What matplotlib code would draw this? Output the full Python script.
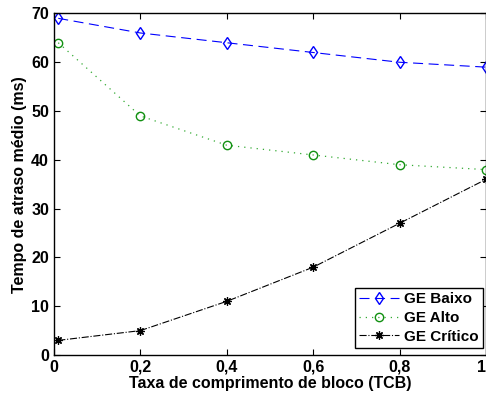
import matplotlib
matplotlib.use('Agg')
import matplotlib.pyplot as plt

# dados
tcb = [0.01, 0.2, 0.4, 0.6, 0.8, 1.0]
ge_baixo = [69, 66, 64, 62, 60, 59]
ge_alto = [64, 49, 43, 41, 39, 38]
ge_critico = [3, 5, 11, 18, 27, 36]

x_ticks = [0, 0.2, 0.4, 0.6, 0.8, 1.0]
x_ticklabels = ['0', '0,2', '0,4', '0,6', '0,8', '1']
y_ticks = [0, 10, 20, 30, 40, 50, 60, 70]

plt.rcParams['font.family'] = ['Liberation Sans', 'DejaVu Sans']
plt.rcParams['font.weight'] = 'bold'

fig = plt.figure(figsize=(4.86, 3.96), dpi=100)
ax = fig.add_axes([0.111, 0.1035, 0.889, 0.8625])

ax.plot(tcb, ge_baixo, linestyle='--', color='#0000ff', marker='d', markersize=6.5,
        markerfacecolor='none', markeredgecolor='#0000ff', linewidth=0.8, label='GE Baixo',
        dashes=(9, 5))
ax.plot(tcb, ge_alto, linestyle=':', color='#33aa33', marker='o', markersize=6,
        markerfacecolor='none', markeredgecolor='#119011', linewidth=0.9, label='GE Alto',
        dashes=(1, 4))
ax.plot(tcb, ge_critico, linestyle='-.', color='black', marker=(8, 2, 0), markersize=6,
        markeredgecolor='black', markeredgewidth=0.9,
        linewidth=0.8, label='GE Crítico')

ax.set_xlim(0, 1)
ax.set_ylim(0, 70)
ax.set_xticks(x_ticks)
ax.set_xticklabels(x_ticklabels)
ax.set_yticks(y_ticks)
ax.tick_params(direction='in', top=True, right=True, labelsize=11.5, length=4, width=0.8)
ax.get_xticklabels()[-1].set_horizontalalignment('right')
for s in ax.spines.values():
    s.set_linewidth(1.0)

ax.set_xlabel('Taxa de comprimento de bloco (TCB)', fontsize=11.5, fontweight='bold', labelpad=1)
ax.set_ylabel('Tempo de atraso médio (ms)', fontsize=11.5, fontweight='bold', labelpad=3)

leg = ax.legend(loc='lower right', bbox_to_anchor=(0.993, 0.02), borderaxespad=0,
                fontsize=11, fancybox=False, framealpha=1, edgecolor='black',
                handlelength=2.6, borderpad=0.3, labelspacing=0.3, handletextpad=0.3)
leg.get_frame().set_linewidth(1.0)

fig.savefig('out.png', dpi=100)
